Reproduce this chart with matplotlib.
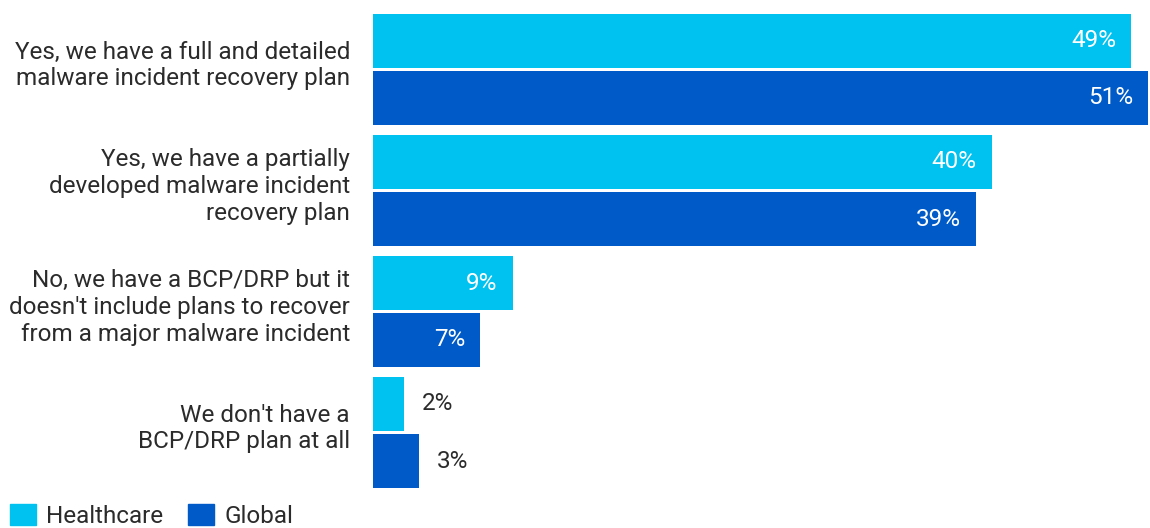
import matplotlib
matplotlib.use("Agg")
import matplotlib.pyplot as plt
from matplotlib.patches import Patch
import numpy as np

categories = [
    "Yes, we have a full and detailed\nmalware incident recovery plan",
    "Yes, we have a partially\ndeveloped malware incident\nrecovery plan",
    "No, we have a BCP/DRP but it\ndoesn't include plans to recover\nfrom a major malware incident",
    "We don't have a\nBCP/DRP plan at all",
]
healthcare = [49.4, 40.3, 9.1, 2.0]
global_ = [50.5, 39.3, 7.0, 3.0]
healthcare_labels = ["49%", "40%", "9%", "2%"]
global_labels = ["51%", "39%", "7%", "3%"]
series_names = ["Healthcare", "Global"]

c_hc = "#00C2F0"
c_gl = "#005BC9"
txt = "#2B2B2B"
FONT = ["Roboto", "DejaVu Sans"]
plt.rcParams["font.family"] = FONT

W, H = 1150, 528
fig = plt.figure(figsize=(W / 100, H / 100), dpi=100)
ax = fig.add_axes([373 / W, 0, (W - 373) / W, 1])

pitch = 121.0
y = np.arange(len(categories))
h = 54 / pitch
off = 28.5 / pitch

ax.barh(y - off, healthcare, height=h, color=c_hc)
ax.barh(y + off, global_, height=h, color=c_gl)

ax.set_xlim(0, (W - 373) / 15.35)
ax.set_ylim((H - 69.5) / pitch, -69.5 / pitch)
ax.axis("off")

fs = 17.5
for i in range(len(categories)):
    for vals, labs, yy in ((healthcare, healthcare_labels, y[i] - off), (global_, global_labels, y[i] + off)):
        v = vals[i]
        if v > 5:
            ax.annotate(labs[i], (v, yy), xytext=(-15 * 0.72, 0), textcoords="offset points",
                        ha="right", va="center", color="white", fontsize=fs)
        else:
            ax.annotate(labs[i], (v, yy), xytext=(18 * 0.72, 0), textcoords="offset points",
                        ha="left", va="center", color=txt, fontsize=fs)
    ax.annotate(categories[i], (0, y[i]), xytext=(-23 * 0.72, 4 * 0.72), textcoords="offset points",
                ha="right", va="center", multialignment="right", color=txt, fontsize=fs,
                linespacing=1.2, annotation_clip=False)

handles = [Patch(color=c_hc), Patch(color=c_gl)]
leg = fig.legend(handles, series_names, loc="lower left", bbox_to_anchor=(10 / W, 0),
                 frameon=False, fontsize=fs, handlelength=1.05, handleheight=0.95,
                 handletextpad=0.42, columnspacing=1.05, ncol=2, borderaxespad=0, borderpad=0)
for t in leg.get_texts():
    t.set_color(txt)

fig.savefig("out.png", dpi=100)
